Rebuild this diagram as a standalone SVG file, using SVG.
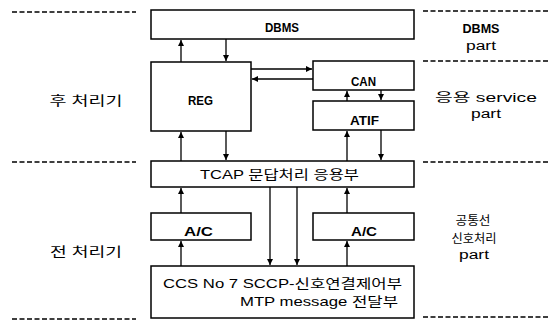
<svg xmlns="http://www.w3.org/2000/svg" width="554" height="322" viewBox="0 0 554 322">
<style>
.box{fill:#fff;stroke:#000;stroke-width:1.5}
.dash{stroke:#000;stroke-width:1.5;stroke-dasharray:5 2.5;fill:none}
.ln{stroke:#000;stroke-width:1.3;fill:none;marker-end:url(#ah)}
text{font-family:"Liberation Sans","Noto Sans CJK KR",sans-serif;font-size:13px;fill:#000}
.b{font-weight:bold}
.m{text-anchor:middle}
.s{font-size:12px}
</style>
<defs>
<marker id="ah" viewBox="0 0 8 8" refX="8" refY="4" markerWidth="6" markerHeight="6" markerUnits="userSpaceOnUse" orient="auto">
<path d="M0,0 L8,4 L0,8 z" fill="#000"/>
</marker>
</defs>
<rect width="554" height="322" fill="#fff"/>
<g id="separators">
<line class="dash" x1="12" y1="12" x2="136" y2="12"/>
<line class="dash" x1="12" y1="162" x2="136" y2="162"/>
<line class="dash" x1="12" y1="319" x2="136" y2="319"/>
<line class="dash" x1="423" y1="11" x2="550" y2="11"/>
<line class="dash" x1="423" y1="61" x2="550" y2="61"/>
<line class="dash" x1="423" y1="162" x2="550" y2="162"/>
<line class="dash" x1="423" y1="317" x2="550" y2="317"/>
</g>
<g id="labels">
<text class="m" x="86" y="105" textLength="73" lengthAdjust="spacingAndGlyphs">후 처리기</text>
<text class="m" x="86" y="256" textLength="72" lengthAdjust="spacingAndGlyphs">전 처리기</text>
<text class="m b" x="481" y="33" font-size="12" textLength="37" lengthAdjust="spacingAndGlyphs">DBMS</text>
<text class="m s" x="481" y="50" textLength="30" lengthAdjust="spacingAndGlyphs">part</text>
<text class="m s" x="486" y="102" textLength="102" lengthAdjust="spacingAndGlyphs">응용 service</text>
<text class="m s" x="486" y="118" textLength="30" lengthAdjust="spacingAndGlyphs">part</text>
<text class="m s" x="473" y="225" textLength="35" lengthAdjust="spacingAndGlyphs">공통선</text>
<text class="m s" x="474" y="243" textLength="45" lengthAdjust="spacingAndGlyphs">신호처리</text>
<text class="m s" x="474" y="259" textLength="30" lengthAdjust="spacingAndGlyphs">part</text>
</g>
<g id="dbms">
<rect class="box" x="151" y="10" width="263" height="29"/>
<text class="b" x="265" y="32" font-size="13" textLength="34" lengthAdjust="spacingAndGlyphs">DBMS</text>
</g>
<g id="reg">
<rect class="box" x="151" y="62" width="100" height="69"/>
<text class="b" x="188" y="105" font-size="14" textLength="25" lengthAdjust="spacingAndGlyphs">REG</text>
</g>
<g id="can">
<rect class="box" x="313" y="61" width="101" height="29"/>
<text class="b" x="351" y="86" font-size="14" textLength="25" lengthAdjust="spacingAndGlyphs">CAN</text>
</g>
<g id="atif">
<rect class="box" x="313" y="101" width="101" height="29"/>
<text class="b" x="350" y="125" font-size="14" textLength="29" lengthAdjust="spacingAndGlyphs">ATIF</text>
</g>
<g id="tcap">
<rect class="box" x="151" y="161" width="263" height="26"/>
<text x="200" y="179" textLength="159" lengthAdjust="spacingAndGlyphs">TCAP 문답처리 응용부</text>
</g>
<g id="ac-left">
<rect class="box" x="151" y="213" width="100" height="27"/>
<text class="b" x="184" y="236" font-size="14" textLength="29" lengthAdjust="spacingAndGlyphs">A/C</text>
</g>
<g id="ac-right">
<rect class="box" x="313" y="213" width="101" height="27"/>
<text class="b" x="351" y="236" font-size="14" textLength="26" lengthAdjust="spacingAndGlyphs">A/C</text>
</g>
<g id="ccs">
<rect class="box" x="151" y="266" width="263" height="52"/>
<text x="163" y="288" font-size="14" textLength="239" lengthAdjust="spacingAndGlyphs">CCS No 7 SCCP-신호연결제어부</text>
<text x="240" y="306" font-size="14" textLength="158" lengthAdjust="spacingAndGlyphs">MTP message 전달부</text>
</g>
<g id="connectors">
<line class="ln" x1="181" y1="62" x2="181" y2="40"/>
<line class="ln" x1="226" y1="39" x2="226" y2="61"/>
<line class="ln" x1="251" y1="69" x2="312" y2="69"/>
<line class="ln" x1="313" y1="79" x2="252" y2="79"/>
<line class="ln" x1="347" y1="101" x2="347" y2="91"/>
<line class="ln" x1="381" y1="90" x2="381" y2="100"/>
<line class="ln" x1="347" y1="161" x2="347" y2="131"/>
<line class="ln" x1="381" y1="130" x2="381" y2="160"/>
<line class="ln" x1="181" y1="161" x2="181" y2="132"/>
<line class="ln" x1="226" y1="131" x2="226" y2="160"/>
<line class="ln" x1="181" y1="213" x2="181" y2="188"/>
<line class="ln" x1="181" y1="266" x2="181" y2="241"/>
<line class="ln" x1="347" y1="213" x2="347" y2="188"/>
<line class="ln" x1="347" y1="266" x2="347" y2="241"/>
<line class="ln" x1="270" y1="187" x2="270" y2="265"/>
<line class="ln" x1="297" y1="187" x2="297" y2="265"/>
</g>
</svg>
